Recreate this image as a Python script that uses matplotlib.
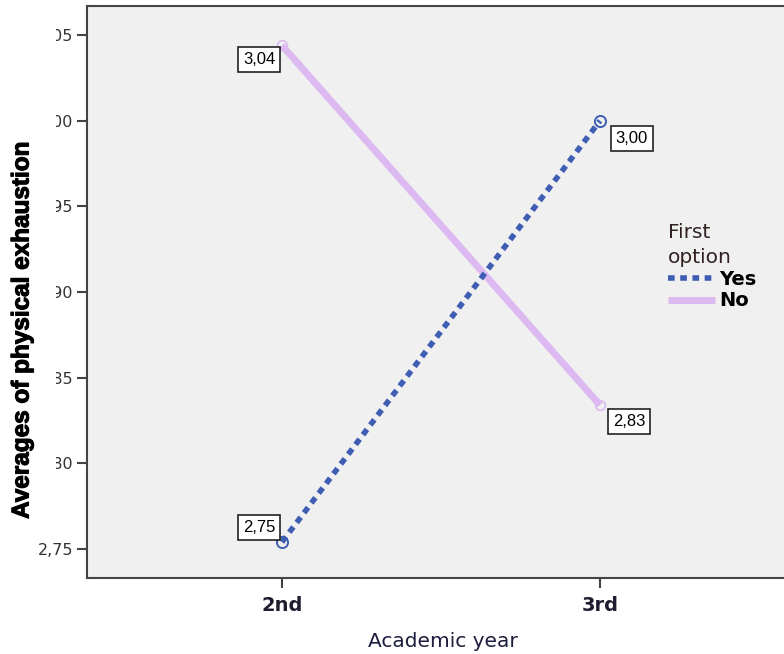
import matplotlib
matplotlib.use("Agg")
import matplotlib.pyplot as plt
import matplotlib.patheffects as pe
from matplotlib.patches import Rectangle

# Data
years = ["2nd", "3rd"]
yes_means = [2.754, 3.000]
no_means = [3.044, 2.834]
y_ticks = [2.75, 2.80, 2.85, 2.90, 2.95, 3.00, 3.05]

plt.rcParams['font.family'] = ['DejaVu Sans']

fig = plt.figure(figsize=(7.84, 6.54), dpi=100)
ax = fig.add_axes([0.111, 0.1162, 0.909, 0.8746])
ax.set_facecolor("#f0f0f0")

x = list(range(len(years)))
yes_col = "#3f5db3"
no_col = "#dcb9f0"

ax.plot(x, no_means, color=no_col, lw=5, solid_capstyle="butt", label="No",
        marker="o", ms=7, mfc="none", mec=no_col, mew=1.2)
ax.plot(x, yes_means, color=yes_col, lw=4, ls=(0, (1.2, 1)), label="Yes",
        marker="o", ms=8, mfc="none", mec=yes_col, mew=1.4, dash_capstyle="butt")

box = dict(boxstyle="square,pad=0.3", fc="white", ec="#222222", lw=1.2)
def lab(v):
    return f"{v:.2f}".replace(".", ",")

afont = dict(fontsize=12, family=["Liberation Sans", "DejaVu Sans"], ha="center", va="center", bbox=box)
ax.annotate(lab(no_means[0]), (x[0], no_means[0]), xytext=(-16.5, -10.5), textcoords="offset points", **afont)
ax.annotate(lab(yes_means[1]), (x[1], yes_means[1]), xytext=(23, -12.5), textcoords="offset points", **afont)
ax.annotate(lab(no_means[1]), (x[1], no_means[1]), xytext=(21, -12), textcoords="offset points", **afont)
ax.annotate(lab(yes_means[0]), (x[0], yes_means[0]), xytext=(-16.5, 10.5), textcoords="offset points", **afont)

ax.set_xlim(-0.613, 1.628)
ax.set_ylim(2.733, 3.067)
ax.set_xticks(x)
ax.set_xticklabels(years, fontsize=14, fontweight="bold", color="#1e1e30")
ax.set_yticks(y_ticks)
ax.set_yticklabels([lab(v) for v in y_ticks], fontsize=11.5, color="#333333")
ax.tick_params(axis="both", direction="out", length=7, width=1.5, color="#444444")
ax.tick_params(axis="x", pad=6)
ax.tick_params(axis="y", pad=3)
for s in ax.spines.values():
    s.set_color("#444444")
    s.set_linewidth(1.5)

ax.set_xlabel("Academic year", fontsize=14.5, color="#1c1c3c", labelpad=12)

# white strip behind the y-label (covers the start of the tick labels as in the source)
fig.patches.append(Rectangle((0, 1 - 528 / 654), 56 / 784, 528 / 654,
                             transform=fig.transFigure, fc="white", ec="none", zorder=5))
fig.text(22 / 784, 1 - 330 / 654, "Averages of physical exhaustion", rotation=90,
         ha="center", va="center", fontsize=17.5, fontweight="bold",
         family=["Liberation Sans", "DejaVu Sans"], zorder=6,
         path_effects=[pe.withStroke(linewidth=0.8, foreground="black")])

handles, labels = ax.get_legend_handles_labels()
leg = ax.legend(handles[::-1], labels[::-1], title="First\noption", loc="upper left",
                bbox_to_anchor=(0.815, 0.62), frameon=False, fontsize=14,
                title_fontsize=14.5, handlelength=2.4, alignment="left", borderpad=0,
                labelspacing=0.15, handletextpad=0.25, borderaxespad=0)
for t in leg.get_texts():
    t.set_fontweight("bold")
leg.get_title().set_color("#332222")
leg.get_title().set_linespacing(1.35)
for h in leg.legend_handles:
    h.set_marker("")

fig.savefig("out.png", dpi=100)
